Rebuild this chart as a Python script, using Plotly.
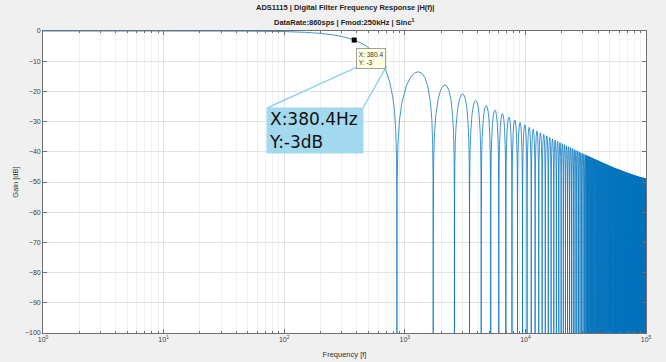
import plotly.graph_objects as go
import math

# ---- data ----
# main lobe (passband) of the sinc1 response
main_hz = [1, 10, 50, 100, 150, 200, 250, 300, 350, 380.4, 400, 450, 500, 550,
           600, 650, 700, 750, 800, 820, 840, 850, 855, 858]
main_db = [0, 0, -0.05, -0.19, -0.44, -0.79, -1.24, -1.81, -2.51, -3.0, -3.35,
           -4.34, -5.51, -6.92, -8.61, -10.68, -13.31, -16.90, -22.59, -26.27,
           -32.44, -38.59, -44.66, -52.6]

# notch frequencies (multiples of the 860 sps data rate)
null_hz = [860, 1720, 2580, 3440, 4300, 5160, 6020, 6880, 7740, 8600,
           9460, 10320, 11180, 12040, 12900, 13760, 14620, 15480, 16340, 17200,
           18060, 18920, 19780, 20640, 21500, 22360, 23220, 24080, 24940, 25800,
           26660, 27520, 28380, 29240, 30100, 30960, 31820, 32680, 33540, 34400,
           35260, 36120, 36980, 37840, 38700, 39560, 40420, 41280, 42140, 43000,
           43860, 44720, 45580, 46440, 47300, 48160, 49020, 49880, 50740, 51600,
           52460, 53320, 54180, 55040, 55900, 56760, 57620, 58480, 59340, 60200,
           61060, 61920, 62780, 63640, 64500, 65360, 66220, 67080, 67940, 68800,
           69660, 70520, 71380, 72240, 73100, 73960, 74820, 75680, 76540, 77400,
           78260, 79120, 79980, 80840, 81700, 82560, 83420, 84280, 85140, 86000,
           86860, 87720, 88580, 89440, 90300, 91160, 92020, 92880, 93740, 94600,
           95460, 96320, 97180, 98040, 98900, 99760, 100620]

# side-lobe peak gains (dB), one per lobe between consecutive notches
peak_db = [-13.5, -17.9, -20.8, -23.0, -24.7, -26.2, -27.4, -28.5, -29.5, -30.3,
           -31.1, -31.9, -32.5, -33.1, -33.7, -34.2, -34.7, -35.2, -35.7, -36.1,
           -36.5, -36.9, -37.3, -37.6, -38.0, -38.3, -38.6, -38.9, -39.2, -39.5,
           -39.7, -40.0, -40.3, -40.5, -40.7, -41.0, -41.2, -41.4, -41.6, -41.8,
           -42.0, -42.2, -42.4, -42.6, -42.7, -42.9, -43.1, -43.3, -43.4, -43.6,
           -43.7, -43.9, -44.0, -44.2, -44.3, -44.4, -44.6, -44.7, -44.8, -44.9,
           -45.1, -45.2, -45.3, -45.4, -45.5, -45.6, -45.7, -45.8, -45.9, -46.0,
           -46.1, -46.2, -46.3, -46.4, -46.5, -46.6, -46.7, -46.8, -46.9, -46.9,
           -47.0, -47.1, -47.2, -47.2, -47.3, -47.4, -47.4, -47.5, -47.6, -47.6,
           -47.7, -47.8, -47.8, -47.9, -47.9, -48.0, -48.1, -48.1, -48.2, -48.2,
           -48.3, -48.3, -48.4, -48.4, -48.4, -48.5, -48.5, -48.6, -48.6, -48.6,
           -48.7, -48.7, -48.8, -48.8, -48.8, -48.9]

# shape of one side lobe: fraction across the lobe and gain relative to its peak
lobe_frac = [0.005, 0.02, 0.05, 0.1, 0.2, 0.3, 0.4, 0.5, 0.6, 0.7, 0.8, 0.9, 0.95, 0.98, 0.995]
lobe_rel_db = [-36.1, -24.0, -16.1, -10.2, -4.6, -1.8, -0.4, 0.0, -0.4, -1.8, -4.6, -10.2, -16.1, -24.0, -36.1]
null_db = -100

# data tip
tip_hz = [380.4]
tip_db = [-3]

x_tick_vals = [1, 10, 100, 1000, 10000, 100000]
x_tick_text = ["10<sup>0</sup>", "10<sup>1</sup>", "10<sup>2</sup>",
               "10<sup>3</sup>", "10<sup>4</sup>", "10<sup>5</sup>"]
y_tick_vals = [0, -10, -20, -30, -40, -50, -60, -70, -80, -90, -100]

# ---- assemble the response curve ----
xs = list(main_hz)
ys = list(main_db)
for k, pk in enumerate(peak_db):
    a, b = null_hz[k], null_hz[k + 1]
    xs.append(a)
    ys.append(null_db)
    for t, r in zip(lobe_frac, lobe_rel_db):
        xs.append(a + t * (b - a))
        ys.append(pk + r)
xs.append(null_hz[-1])
ys.append(null_db)

# where the lobes are packed closer than a pixel they merge into a solid band
dense_from = 35
band_x = [(null_hz[k] + null_hz[k + 1]) / 2 for k in range(dense_from, len(peak_db))]
band_top = peak_db[dense_from:]
band_bottom = [null_db] * len(band_top)

minor_vals = [m * 10 ** d for d in range(5) for m in range(2, 10)]

FONT = "Liberation Sans, Arial, sans-serif"
AX = "#6e6e6e"

fig = go.Figure()
fig.add_trace(go.Scatter(x=band_x, y=band_bottom, mode="lines",
                         line=dict(width=0), showlegend=False, hoverinfo="skip"))
fig.add_trace(go.Scatter(x=band_x, y=band_top, mode="lines", fill="tonexty",
                         fillcolor="rgba(0,114,189,0.75)", line=dict(width=0),
                         showlegend=False, hoverinfo="skip"))
fig.add_trace(go.Scatter(x=xs, y=ys, mode="lines",
                         line=dict(color="#0072BD", width=0.75, simplify=False),
                         showlegend=False, hoverinfo="skip"))
fig.add_trace(go.Scatter(x=tip_hz, y=tip_db, mode="markers",
                         marker=dict(symbol="square", size=5, color="black"),
                         showlegend=False, hoverinfo="skip"))

fig.update_layout(
    width=666, height=362,
    margin=dict(l=43, r=20, t=31, b=29, autoexpand=False),
    paper_bgcolor="#f0f0f0", plot_bgcolor="white",
    font=dict(family=FONT, size=7, color="#404040"),
    showlegend=False,
)

fig.update_xaxes(
    type="log", range=[0, 5], automargin=False,
    tickmode="array", tickvals=x_tick_vals, ticktext=x_tick_text,
    ticks="inside", ticklen=4, tickcolor=AX, tickwidth=0.8,
    showline=True, linecolor=AX, linewidth=0.8, mirror="ticks",
    showgrid=True, gridcolor="#e2e2e2", gridwidth=0.6,
    tickfont=dict(size=7, color="#404040"),
    minor=dict(tickmode="array", tickvals=minor_vals, ticks="inside", ticklen=2.5,
               tickcolor=AX, tickwidth=0.6, showgrid=True, gridcolor="#f0f0f0",
               gridwidth=0.6),
    title=dict(text="Frequency [f]", font=dict(size=7.5, color="#333333"), standoff=9),
)
fig.update_yaxes(
    range=[-100, 0], tickmode="array", tickvals=y_tick_vals, automargin=False,
    ticks="inside", ticklen=4, tickcolor=AX, tickwidth=0.8,
    showline=True, linecolor=AX, linewidth=0.8, mirror="ticks",
    showgrid=True, gridcolor="#e2e2e2", gridwidth=0.6, zeroline=False,
    tickfont=dict(size=7, color="#404040"),
    title=dict(text="Gain [dB]", font=dict(size=7.5, color="#333333"), standoff=5),
)

# titles
fig.add_annotation(xref="paper", yref="paper", x=0.5, y=1.077, yanchor="middle",
                   showarrow=False,
                   text="<b>ADS1115 | Digital Filter Frequency Response |H(f)|</b>",
                   font=dict(size=7.5, color="#222222", family=FONT))
fig.add_annotation(xref="paper", yref="paper", x=0.5, y=1.030, yanchor="middle",
                   showarrow=False,
                   text="<b>DataRate:860sps | Fmod:250kHz | Sinc<sup>1</sup></b>",
                   font=dict(size=7.5, color="#222222", family=FONT))

# datatip box
fig.add_annotation(x=math.log10(tip_hz[0]), y=tip_db[0], xref="x", yref="y",
                   xanchor="left", yanchor="top", xshift=2, yshift=-8,
                   showarrow=False, align="left",
                   text="X: 380.4<br>Y: -3",
                   font=dict(size=6.5, color="#333333", family=FONT),
                   bgcolor="#ffffe1", bordercolor="#8a8a8a", borderwidth=0.8, borderpad=2)

# callout connector lines
CALL = "#90d2ea"
fig.add_shape(type="line", xref="paper", yref="paper", x0=0.5215, y0=0.881,
              x1=0.3715, y1=0.745, line=dict(color=CALL, width=1.4))
fig.add_shape(type="line", xref="paper", yref="paper", x0=0.570, y0=0.884,
              x1=0.5305, y1=0.745, line=dict(color=CALL, width=1.4))

# callout box
fig.add_annotation(xref="paper", yref="paper", x=0.3700, y=0.748,
                   xanchor="left", yanchor="top", showarrow=False, align="left",
                   text="X:380.4Hz<br>Y:-3dB",
                   font=dict(size=17, color="#111111", family="DejaVu Sans, sans-serif"),
                   bgcolor="#a3d9ee", borderpad=2, width=92, height=41)

fig.write_html("out.html", config={"displayModeBar": False},
               post_script="document.body.style.margin='0';")
